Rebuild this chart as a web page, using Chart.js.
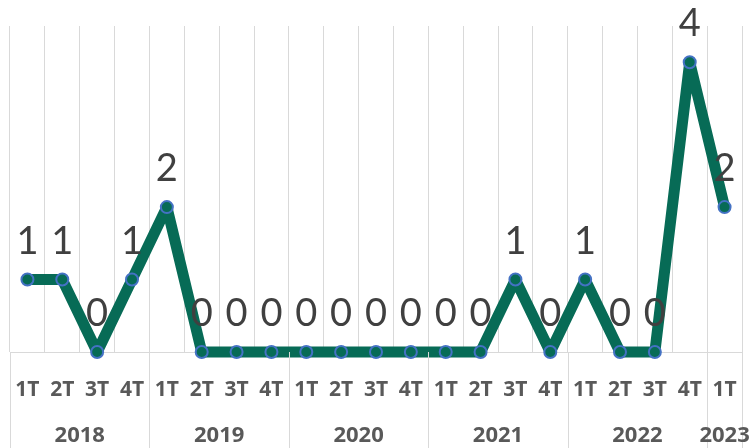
<!DOCTYPE html>
<html>
<head>
<meta charset="utf-8">
<script src="https://cdn.jsdelivr.net/npm/chart.js@4/dist/chart.umd.min.js"></script>
<style>
    html, body { margin: 0; padding: 0; background: #fff; }
    #wrap { width: 750px; height: 448px; position: relative; }
</style>
</head>
<body>
<div id="wrap"><canvas id="chart"></canvas></div>
<script>
// quarterly counts, 2018 1T .. 2023 1T
const quarters = ['1T', '2T', '3T', '4T', '1T', '2T', '3T', '4T', '1T', '2T', '3T', '4T',
    '1T', '2T', '3T', '4T', '1T', '2T', '3T', '4T', '1T'];
const years = ['2018', '2019', '2020', '2021', '2022', '2023'];
const quartersPerYear = [4, 4, 4, 4, 4, 1];
const values = [1, 1, 0, 1, 2, 0, 0, 0, 0, 0, 0, 0, 0, 0, 1, 0, 1, 0, 0, 4, 2];

const lineColor = '#076B56';
const gridColor = '#D9D9D9';
const textColor = '#595959';

// year row + separators under the quarter labels
const yearAxis = {
    id: 'yearAxis',
    afterDraw(chart) {
        const ctx = chart.ctx;
        const x = chart.scales.x;
        const area = chart.chartArea;
        const half = (x.getPixelForValue(1) - x.getPixelForValue(0)) / 2;
        let start = 0;
        ctx.save();
        ctx.strokeStyle = gridColor;
        ctx.lineWidth = 1;
        ctx.fillStyle = textColor;
        ctx.font = 'bold 22px "Open Sans"';
        ctx.textAlign = 'center';
        ctx.textBaseline = 'middle';
        years.forEach((year, i) => {
            const end = start + quartersPerYear[i] - 1;
            const left = x.getPixelForValue(start) - half;
            const right = x.getPixelForValue(end) + half;
            [left, right].forEach(px => {
                ctx.beginPath();
                ctx.moveTo(Math.round(px) + 0.5, area.bottom);
                ctx.lineTo(Math.round(px) + 0.5, chart.height);
                ctx.stroke();
            });
            ctx.fillText(year, (left + right) / 2, 436);
            start = end + 1;
        });
        ctx.restore();
    }
};

// value labels above each point
const pointLabels = {
    id: 'pointLabels',
    afterDatasetsDraw(chart) {
        const ctx = chart.ctx;
        const meta = chart.getDatasetMeta(0);
        ctx.save();
        ctx.fillStyle = '#404040';
        ctx.font = '38px Lato';
        ctx.textAlign = 'center';
        ctx.textBaseline = 'alphabetic';
        meta.data.forEach((pt, i) => {
            ctx.fillText(String(values[i]), pt.x, pt.y - 26);
        });
        ctx.restore();
    }
};

new Chart(document.getElementById('chart'), {
    type: 'line',
    data: {
        labels: quarters,
        datasets: [{
            data: values,
            borderColor: lineColor,
            borderWidth: 11,
            borderJoinStyle: 'round',
            backgroundColor: lineColor,
            pointBackgroundColor: lineColor,
            pointBorderColor: '#4472C4',
            pointBorderWidth: 2,
            pointRadius: 6,
            tension: 0,
            clip: false
        }]
    },
    options: {
        responsive: true,
        maintainAspectRatio: false,
        animation: false,
        events: [],
        layout: {padding: {left: 10, right: 8, top: 26, bottom: 0}},
        plugins: {
            legend: {display: false},
            tooltip: {enabled: false}
        },
        scales: {
            x: {
                type: 'category',
                offset: true,
                grid: {
                    display: true,
                    offset: true,
                    color: gridColor,
                    lineWidth: 1,
                    drawTicks: false
                },
                border: {display: true, color: gridColor, width: 1},
                ticks: {
                    autoSkip: false,
                    maxRotation: 0,
                    padding: 25,
                    color: textColor,
                    font: {family: 'Open Sans', size: 21, weight: 'bold'}
                },
                afterFit(scale) {
                    scale.height = 96;
                    scale.paddingLeft = 0;
                    scale.paddingRight = 0;
                }
            },
            y: {
                display: false,
                min: 0,
                max: 4.5
            }
        }
    },
    plugins: [yearAxis, pointLabels]
});
</script>
</body>
</html>
